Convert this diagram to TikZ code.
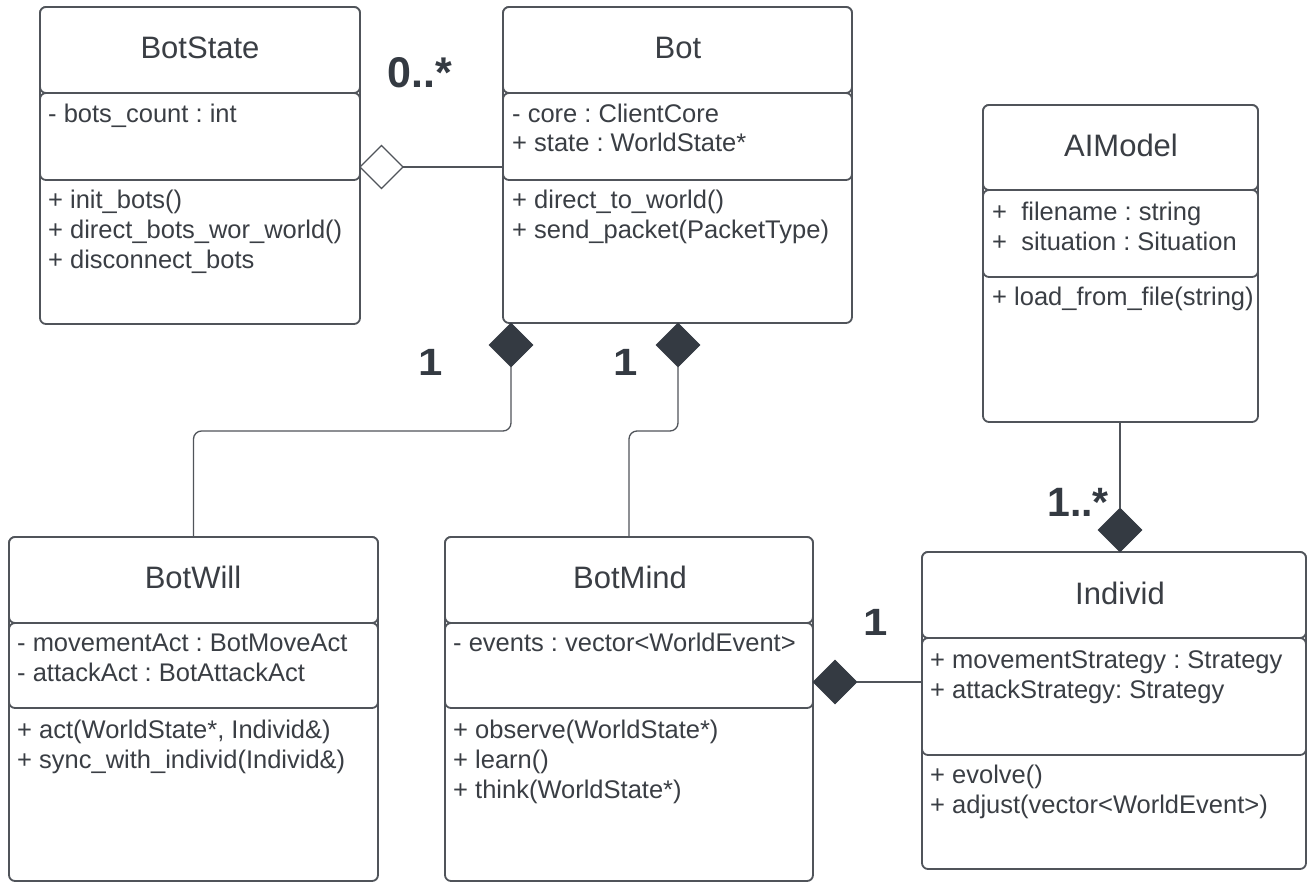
\documentclass[tikz,border=0pt]{standalone}
\usepackage{fontspec}
\setmainfont{Liberation Sans}
\usetikzlibrary{shapes.geometric}

\definecolor{ink}{HTML}{3A3E44}
\definecolor{edge}{HTML}{50545A}
\definecolor{solid}{HTML}{343A42}

\tikzset{
  classbox/.style={draw=edge, line width=1.8pt, fill=white, rounded corners=6pt, inner sep=0pt, outer sep=0pt},
  part/.style={draw=edge, line width=1.8pt, fill=white, rounded corners=6pt},
  clsname/.style={anchor=base, inner sep=0pt, text=ink, font=\fontsize{31}{36}\selectfont\frenchspacing},
  member/.style={anchor=base west, inner sep=0pt, text=ink, font=\fontsize{25.5}{30}\selectfont\frenchspacing},
  mult/.style={anchor=base, inner sep=0pt, text=solid, font=\fontsize{38}{44}\selectfont\bfseries},
  conn/.style={draw=edge, line width=1.3pt},
  comp/.style={diamond, fill=solid, draw=solid, line width=0.5pt, minimum width=44pt, minimum height=44pt, inner sep=0pt, outer sep=0pt},
  agg/.style={diamond, fill=white, draw=edge, line width=1.3pt, minimum width=43pt, minimum height=43pt, inner sep=0pt, outer sep=0pt},
}

% UML class frame: #1 name, #2/#3 top-left, #4/#5 bottom-right,
% #6 bottom of the name compartment, #7 bottom of the attribute compartment
\newcommand\umlclass[7]{%
  \node[classbox, anchor=north west, minimum width={#4-#2}, minimum height={#5-#3}] (#1) at (#2,#3) {};
  \draw[part] (#1.north west) rectangle (#1.east |- 0,#6);
  \draw[part] (#1.west |- 0,#6) rectangle (#1.east |- 0,#7);
}

\begin{document}
\begin{tikzpicture}[x=1pt, y=-1pt]
  \fill[white] (0,0) rectangle (1308,883);
  \useasboundingbox (0,0) rectangle (1308,883);

  % ---------- BotState ----------
  \umlclass{botstate}{40}{7}{360}{324}{93}{180}
  \node[clsname] (botstate-name) at (200,59) {BotState};
  \node[member] (botstate-a1) at (48,122) {- bots\_count : int};
  \node[member] (botstate-m1) at (48,208) {+ init\_bots()};
  \node[member] (botstate-m2) at (48,238) {+ direct\_bots\_wor\_world()};
  \node[member] (botstate-m3) at (48,268) {+ disconnect\_bots};

  % ---------- Bot ----------
  \umlclass{bot}{503}{7}{852}{323}{93}{180}
  \node[clsname] (bot-name) at (678,59) {Bot};
  \node[member] (bot-a1) at (512,122) {- core : ClientCore};
  \node[member] (bot-a2) at (512,151) {+ state : WorldState*};
  \node[member] (bot-m1) at (512,208) {+ direct\_to\_world()};
  \node[member] (bot-m2) at (512,238) {+ send\_packet(PacketType)};

  % ---------- AIModel ----------
  \umlclass{aimodel}{983}{105}{1258}{422}{190}{277}
  \node[clsname] (aimodel-name) at (1121,156) {AIModel};
  \node[member] (aimodel-a1) at (992,220) {+\ \ filename : string};
  \node[member] (aimodel-a2) at (992,250) {+\ \ situation : Situation};
  \node[member] (aimodel-m1) at (992,305) {+ load\_from\_file(string)};

  % ---------- BotWill ----------
  \umlclass{botwill}{9}{537}{378}{881}{623}{708}
  \node[clsname] (botwill-name) at (193,588) {BotWill};
  \node[member] (botwill-a1) at (17,651) {- movementAct : BotMoveAct};
  \node[member] (botwill-a2) at (17,681) {- attackAct : BotAttackAct};
  \node[member] (botwill-m1) at (17,738) {+ act(WorldState*, Individ\&)};
  \node[member] (botwill-m2) at (17,768) {+ sync\_with\_individ(Individ\&)};

  % ---------- BotMind ----------
  \umlclass{botmind}{445}{537}{813}{881}{623}{708}
  \node[clsname] (botmind-name) at (630,588) {BotMind};
  \node[member] (botmind-a1) at (453,651) {- events : vector<WorldEvent>};
  \node[member] (botmind-m1) at (453,738) {+ observe(WorldState*)};
  \node[member] (botmind-m2) at (453,768) {+ learn()};
  \node[member] (botmind-m3) at (453,798) {+ think(WorldState*)};

  % ---------- Individ ----------
  \umlclass{individ}{922}{552}{1306}{869}{638}{755}
  \node[clsname] (individ-name) at (1120,604) {Individ};
  \node[member] (individ-a1) at (930,668) {+ movementStrategy : Strategy};
  \node[member] (individ-a2) at (930,698) {+ attackStrategy: Strategy};
  \node[member] (individ-m1) at (930,783) {+ evolve()};
  \node[member] (individ-m2) at (930,813) {+ adjust(vector<WorldEvent>)};

  % ---------- relations ----------
  % BotState <>---- Bot (aggregation)
  \node[agg, anchor=west] (aggbot) at (botstate.east |- 0,167) {};
  \draw[conn] (aggbot.east) -- (aggbot.east -| bot.west);

  % Bot <#>---- BotWill
  \node[comp, anchor=north] (compwill) at (511,323) {};
  \draw[conn, rounded corners=8pt] (compwill.south) -- (compwill.south |- 0,431) -| (botwill.north);

  % Bot <#>---- BotMind
  \node[comp, anchor=north] (compmind) at (678,323) {};
  \draw[conn, rounded corners=8pt] (compmind.south) -- (compmind.south |- 0,431) -| (botmind.north);

  % AIModel ----<#> Individ
  \node[comp, anchor=south] (compind) at (1120,552) {};
  \draw[conn] (compind.north |- aimodel.south) -- (compind.north);

  % BotMind <#>---- Individ
  \node[comp, anchor=west] (compmindind) at (813,682) {};
  \draw[conn] (compmindind.east) -- (compmindind.east -| individ.west);

  % multiplicities
  \node[mult, font=\fontsize{43}{50}\selectfont\bfseries] (m-agg) at (420,88) {0..*};
  \node[mult] (m-will) at (431,375) {\scalebox{1.15}[1]{1}};
  \node[mult] (m-mind) at (626,375) {\scalebox{1.15}[1]{1}};
  \node[mult, font=\fontsize{41}{48}\selectfont\bfseries] (m-ind) at (1078,516) {1..*};
  \node[mult] (m-mindind) at (876,635) {\scalebox{1.15}[1]{1}};
\end{tikzpicture}
\end{document}
